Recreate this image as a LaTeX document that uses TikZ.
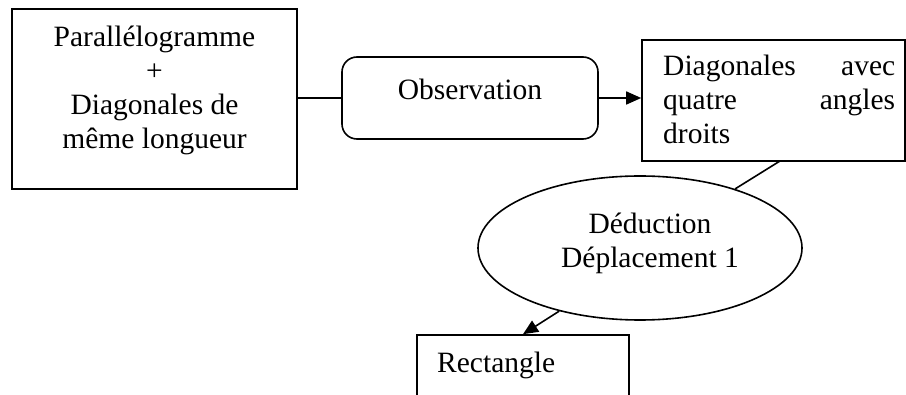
\documentclass[tikz,border=0pt]{standalone}
\usepackage{fontspec}
\setmainfont{Liberation Serif}
\usetikzlibrary{shapes.geometric,arrows.meta}
\begin{document}
\begin{tikzpicture}[x=1pt,y=-1pt,
  every node/.style={font=\fontsize{29.5}{34}\selectfont},
  boxstyle/.style={draw,line width=1.6pt,inner sep=0pt},
  txt/.style={inner sep=0pt},
  conn/.style={line width=1.6pt},
  arr/.style={line width=1.6pt,-{Triangle[length=15pt,width=13pt]}}]
\useasboundingbox (0,0) rectangle (906,395);
\clip (0,0) rectangle (906,395);
% boxes
\node[boxstyle,minimum width=285pt,minimum height=180pt] (lbox) at (154.5,99) {};
\node[boxstyle,rounded corners=15pt,minimum width=256pt,minimum height=82pt] (obs) at (470,98) {};
\node[boxstyle,minimum width=263pt,minimum height=121pt] (rbox) at (773.5,100.5) {};
\node[boxstyle,ellipse,minimum width=324pt,minimum height=144pt] (ell) at (640,248) {};
\node[boxstyle,minimum width=212pt,minimum height=100pt] (rect) at (523,385) {};
% texts
\node[txt,align=center] (ltxt) at (154.5,90) {Parallélogramme\\+\\Diagonales de\\même longueur};
\node[txt] (otxt) at (470,89) {Observation};
\node[txt,anchor=north west,text width=232pt,align=justify] (rtxt) at (663,55)
  {Diagonales\hfill avec\\quatre\hfill angles\\droits};
\node[txt,align=center] (etxt) at (650,243) {Déduction\\Déplacement 1};
\node[txt,anchor=base west] (rectxt) at (437,373) {Rectangle};
% connectors
\draw[conn] (lbox.east |- obs.west) -- (obs.west);
\draw[arr] (obs.east) -- (rbox.west |- obs.east);
\coordinate (c1) at (780,161);
\draw[conn] (c1) -- (ell);
\draw[arr] (ell.218) -- (rect.north);
\end{tikzpicture}
\end{document}
